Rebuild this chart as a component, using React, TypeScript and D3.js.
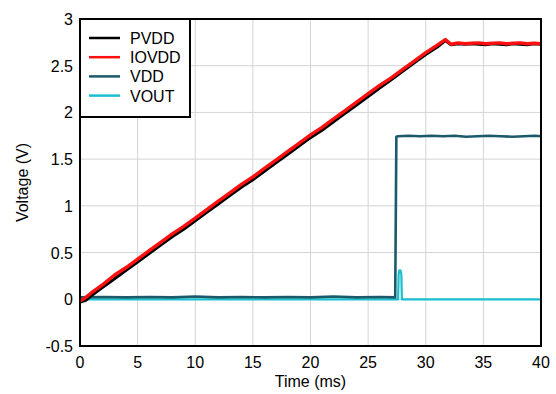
import React from "react";
import * as d3 from "d3";

const W = 556, H = 394;
const M = { left: 80, right: 15, top: 19, bottom: 48 };

const xTicks = [0, 5, 10, 15, 20, 25, 30, 35, 40];
const yTicks = [-0.5, 0, 0.5, 1, 1.5, 2, 2.5, 3];

// IOVDD (red)
const ioT = [0, 0.5, 1, 2, 3, 4, 5, 6, 7, 8, 9, 10, 11, 12, 13, 14, 15, 16, 17, 18, 19, 20, 21, 22, 23, 24, 25, 26, 27, 28, 29, 30, 31, 31.7, 32.2, 32.8, 33.4, 34, 34.6, 35.2, 35.8, 36.4, 37, 37.6, 38.2, 38.8, 39.4, 40];
const ioV = [-0.02, 0.02, 0.07, 0.16, 0.26, 0.34, 0.43, 0.52, 0.61, 0.70, 0.78, 0.87, 0.96, 1.05, 1.14, 1.23, 1.31, 1.40, 1.49, 1.58, 1.67, 1.76, 1.84, 1.93, 2.02, 2.11, 2.20, 2.29, 2.37, 2.46, 2.55, 2.64, 2.72, 2.78, 2.73, 2.745, 2.735, 2.74, 2.745, 2.735, 2.74, 2.745, 2.735, 2.74, 2.745, 2.735, 2.74, 2.735];

// PVDD (black)
const pvT = [0, 0.5, 1, 2, 3, 4, 5, 6, 7, 8, 9, 10, 11, 12, 13, 14, 15, 16, 17, 18, 19, 20, 21, 22, 23, 24, 25, 26, 27, 28, 29, 30, 31, 31.7, 32.2, 32.8, 33.4, 34, 34.6, 35.2, 35.8, 36.4, 37, 37.6, 38.2, 38.8, 39.4, 40];
const pvV = [-0.03, -0.01, 0.04, 0.13, 0.22, 0.31, 0.40, 0.49, 0.58, 0.67, 0.75, 0.84, 0.93, 1.02, 1.11, 1.20, 1.28, 1.37, 1.46, 1.55, 1.64, 1.73, 1.81, 1.90, 1.99, 2.08, 2.17, 2.26, 2.35, 2.44, 2.53, 2.62, 2.70, 2.77, 2.725, 2.735, 2.73, 2.735, 2.73, 2.725, 2.735, 2.73, 2.725, 2.735, 2.73, 2.725, 2.735, 2.73];

// VDD (dark teal)
const vddT = [0, 2, 4, 6, 8, 10, 12, 14, 16, 18, 20, 22, 24, 26, 27.35, 27.45, 27.6, 28.5, 29.5, 30.5, 31.5, 32.5, 33.5, 34.5, 35.5, 36.5, 37.5, 38.5, 39.5, 40];
const vddV = [0.02, 0.025, 0.02, 0.025, 0.02, 0.03, 0.02, 0.025, 0.02, 0.025, 0.02, 0.03, 0.02, 0.025, 0.02, 1.74, 1.745, 1.75, 1.745, 1.75, 1.745, 1.75, 1.74, 1.745, 1.75, 1.745, 1.74, 1.745, 1.75, 1.745];

// VOUT (cyan)
const voutT = [0, 27.6, 27.65, 27.72, 27.8, 27.88, 27.93, 40];
const voutV = [0.0, 0.0, 0.27, 0.31, 0.31, 0.27, 0.0, 0.0];

const series = [
  { name: "PVDD", color: "#000000", width: 3, t: pvT, v: pvV },
  { name: "IOVDD", color: "#ff1010", width: 3.4, t: ioT, v: ioV },
  { name: "VDD", color: "#1b5a6b", width: 2.6, t: vddT, v: vddV },
  { name: "VOUT", color: "#19bfd0", width: 2.2, t: voutT, v: voutV },
];
const drawOrder = [3, 2, 0, 1];

export default function App() {
  const x = d3.scaleLinear().domain([0, 40]).range([M.left, W - M.right]);
  const y = d3.scaleLinear().domain([-0.5, 3]).range([H - M.bottom, M.top]);
  const line = d3.line<[number, number]>().x(d => x(d[0])).y(d => y(d[1]));
  const font = "Liberation Sans, Arial, sans-serif";
  const x0 = x(0), x1 = x(40), yTop = y(3), yBot = y(-0.5);

  return (
    <svg width={W} height={H} style={{ position: "absolute", left: 0, top: 0, background: "#fff" }}>
      <rect x={0} y={0} width={W} height={H} fill="#fff" />
      {xTicks.map(t => (
        <line key={"gx" + t} x1={x(t)} x2={x(t)} y1={yTop} y2={yBot} stroke="#d4d4d4" strokeWidth={1} />
      ))}
      {yTicks.map(t => (
        <line key={"gy" + t} x1={x0} x2={x1} y1={y(t)} y2={y(t)} stroke="#d4d4d4" strokeWidth={1} />
      ))}
      <defs>
        <clipPath id="clip">
          <rect x={x0} y={yTop} width={x1 - x0} height={yBot - yTop} />
        </clipPath>
      </defs>
      <g clipPath="url(#clip)">
        {drawOrder.map(i => {
          const s = series[i];
          const pts = s.t.map((t, k) => [t, s.v[k]] as [number, number]);
          return (
            <path key={s.name} d={line(pts) || ""} fill="none" stroke={s.color} strokeWidth={s.width} strokeLinejoin="round" />
          );
        })}
      </g>
      <rect x={x0} y={yTop} width={x1 - x0} height={yBot - yTop} fill="none" stroke="#000" strokeWidth={2} />
      {/* legend */}
      <rect x={x0} y={yTop} width={110} height={98} fill="#fff" stroke="#000" strokeWidth={2} />
      {series.map((s, i) => (
        <g key={"lg" + s.name}>
          <line x1={89} x2={120} y1={38 + i * 19.2} y2={38 + i * 19.2} stroke={s.color} strokeWidth={2.5} />
          <text x={130} y={38 + i * 19.2 + 6} fontFamily={font} fontSize={16} fill="#000">{s.name}</text>
        </g>
      ))}
      {xTicks.map(t => (
        <text key={"xl" + t} x={x(t)} y={368} textAnchor="middle" fontFamily={font} fontSize={16} fill="#000">{t}</text>
      ))}
      {yTicks.map(t => (
        <text key={"yl" + t} x={x0 - 7} y={y(t) + 6} textAnchor="end" fontFamily={font} fontSize={16} fill="#000">{t}</text>
      ))}
      <text x={(x0 + x1) / 2} y={387} textAnchor="middle" fontFamily={font} fontSize={16} fill="#000">Time (ms)</text>
      <text transform={`translate(28, ${(yTop + yBot) / 2}) rotate(-90)`} textAnchor="middle" fontFamily={font} fontSize={16} fill="#000">Voltage (V)</text>
    </svg>
  );
}
